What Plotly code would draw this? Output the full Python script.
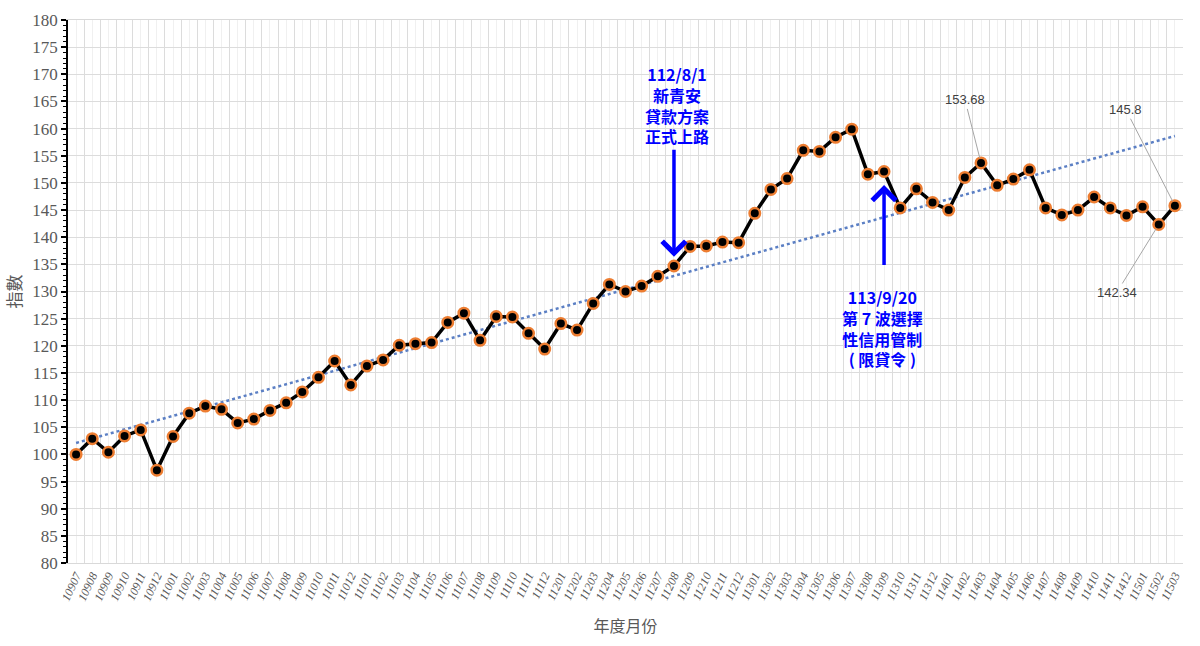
import numpy as np
import plotly.graph_objects as go

months = ["10907","10908","10909","10910","10911","10912",
          "11001","11002","11003","11004","11005","11006","11007","11008","11009","11010","11011","11012",
          "11101","11102","11103","11104","11105","11106","11107","11108","11109","11110","11111","11112",
          "11201","11202","11203","11204","11205","11206","11207","11208","11209","11210","11211","11212",
          "11301","11302","11303","11304","11305","11306","11307","11308","11309","11310","11311","11312",
          "11401","11402","11403","11404","11405","11406","11407","11408","11409","11410","11411","11412",
          "11501","11502","11503"]

index_values = [100.0, 102.9, 100.4, 103.4, 104.5, 97.1,
                103.3, 107.6, 108.9, 108.3, 105.8, 106.5, 108.1, 109.5, 111.5, 114.2, 117.2, 112.8,
                116.3, 117.4, 120.1, 120.4, 120.6, 124.3, 126.0, 121.0, 125.4, 125.3, 122.3, 119.4,
                124.1, 122.9, 127.8, 131.3, 130.0, 131.0, 132.8, 134.7, 138.3, 138.4, 139.1, 139.0,
                144.4, 148.8, 150.8, 156.0, 155.8, 158.4, 159.9, 151.6, 152.1, 145.4, 148.9, 146.4,
                145.0, 151.0, 153.68, 149.55, 150.7, 152.4, 145.4, 144.1, 145.0, 147.4, 145.4, 144.0,
                145.6, 142.34, 145.8]

labeled_points = {"11403": "153.68", "11503": "145.8", "11502": "142.34"}

event1_month, event1_text = "11208", "112/8/1<br>新青安<br>貸款方案<br>正式上路"
event2_month, event2_text = "11309", "113/9/20<br>第 7 波選擇<br>性信用管制<br>( 限貸令 )"

# category positions on the x axis
xi = np.arange(len(months))
# linear trendline fitted to the series
slope, intercept = np.polyfit(xi, index_values, 1)
trend = slope * xi + intercept

fig = go.Figure()
fig.add_trace(go.Scatter(
    x=xi, y=trend, mode="lines",
    line=dict(color="#5B7FC4", width=2.5, dash="dot"),
    hoverinfo="skip", showlegend=False))
fig.add_trace(go.Scatter(
    x=xi, y=index_values, mode="lines+markers", customdata=months,
    hovertemplate="%{customdata}: %{y}<extra></extra>",
    line=dict(color="black", width=3.5),
    marker=dict(size=10.5, color="black", line=dict(color="#ED7D31", width=2.5)),
    showlegend=False))

# data labels with leader lines
offsets = {"11403": (-16, -63), "11503": (-49, -96), "11502": (-42, 68)}
for m, txt in labeled_points.items():
    i = months.index(m)
    ax, ay = offsets[m]
    fig.add_annotation(x=i, y=index_values[i], xref="x", yref="y", text=txt, showarrow=True,
                       arrowhead=0, arrowwidth=1, arrowcolor="#A6A6A6", ax=ax, ay=ay,
                       standoff=5, font=dict(family="Liberation Sans", size=13, color="#404040"))

blue_font = dict(family="Noto Sans CJK TC", size=16, color="#0000FF")
e1 = months.index(event1_month)
e2 = months.index(event2_month)
# event 1: down arrow
fig.add_annotation(x=e1, y=136.4, xref="x", yref="y", ax=e1, ay=156.4,
                   axref="x", ayref="y", showarrow=True, arrowhead=4, arrowsize=1.3,
                   arrowwidth=3.5, arrowcolor="#0000FF", text="")
fig.add_annotation(x=e1, y=164.3, xref="x", yref="y", showarrow=False,
                   text="<b>" + event1_text.replace("<br>", "</b><br><b>") + "</b>",
                   align="center", font=blue_font, xshift=3)
# event 2: up arrow
fig.add_annotation(x=e2, y=149.6, xref="x", yref="y", ax=e2, ay=134.6,
                   axref="x", ayref="y", showarrow=True, arrowhead=4, arrowsize=1.3,
                   arrowwidth=3.5, arrowcolor="#0000FF", text="")
fig.add_annotation(x=e2, y=123.3, xref="x", yref="y", showarrow=False,
                   text="<b>" + event2_text.replace("<br>", "</b><br><b>") + "</b>",
                   align="center", font=blue_font, xshift=-2)

fig.update_layout(
    width=1200, height=646,
    margin=dict(l=68, r=17, t=20, b=83),
    paper_bgcolor="white", plot_bgcolor="white",
    xaxis=dict(
        range=[-0.5, len(months) - 0.5],
        tickmode="array", tickvals=xi, ticktext=months,
        ticks="", showgrid=True, gridcolor="#F0F0F0", gridwidth=1,
        minor=dict(tickmode="array", tickvals=xi - 0.5, showgrid=True,
                   gridcolor="#DCDCDC", gridwidth=1, ticks=""),
        showline=True, linecolor="#D9D9D9", linewidth=1, mirror=True,
        tickangle=-65,
        tickfont=dict(family="Liberation Serif", size=12, color="#595959", style="italic"),
        title=dict(text="年度月份", font=dict(family="Noto Sans CJK TC", size=16, color="#595959"),
                   standoff=18),
        zeroline=False),
    yaxis=dict(
        range=[80, 180], dtick=5, tick0=80,
        showgrid=True, gridcolor="#DCDCDC", gridwidth=1,
        showline=True, linecolor="black", linewidth=1.5,
        ticks="outside", ticklen=5, tickcolor="black", tickwidth=1.5,
        minor=dict(dtick=1, ticklen=3, tickcolor="black", tickwidth=1, showgrid=False),
        tickfont=dict(family="Liberation Serif, Times New Roman, serif", size=17, color="#595959"),
        title=dict(text="指數", font=dict(family="Noto Sans CJK TC", size=17, color="#595959"),
                   standoff=6),
        zeroline=False),
)

fig.write_html("out.html")
